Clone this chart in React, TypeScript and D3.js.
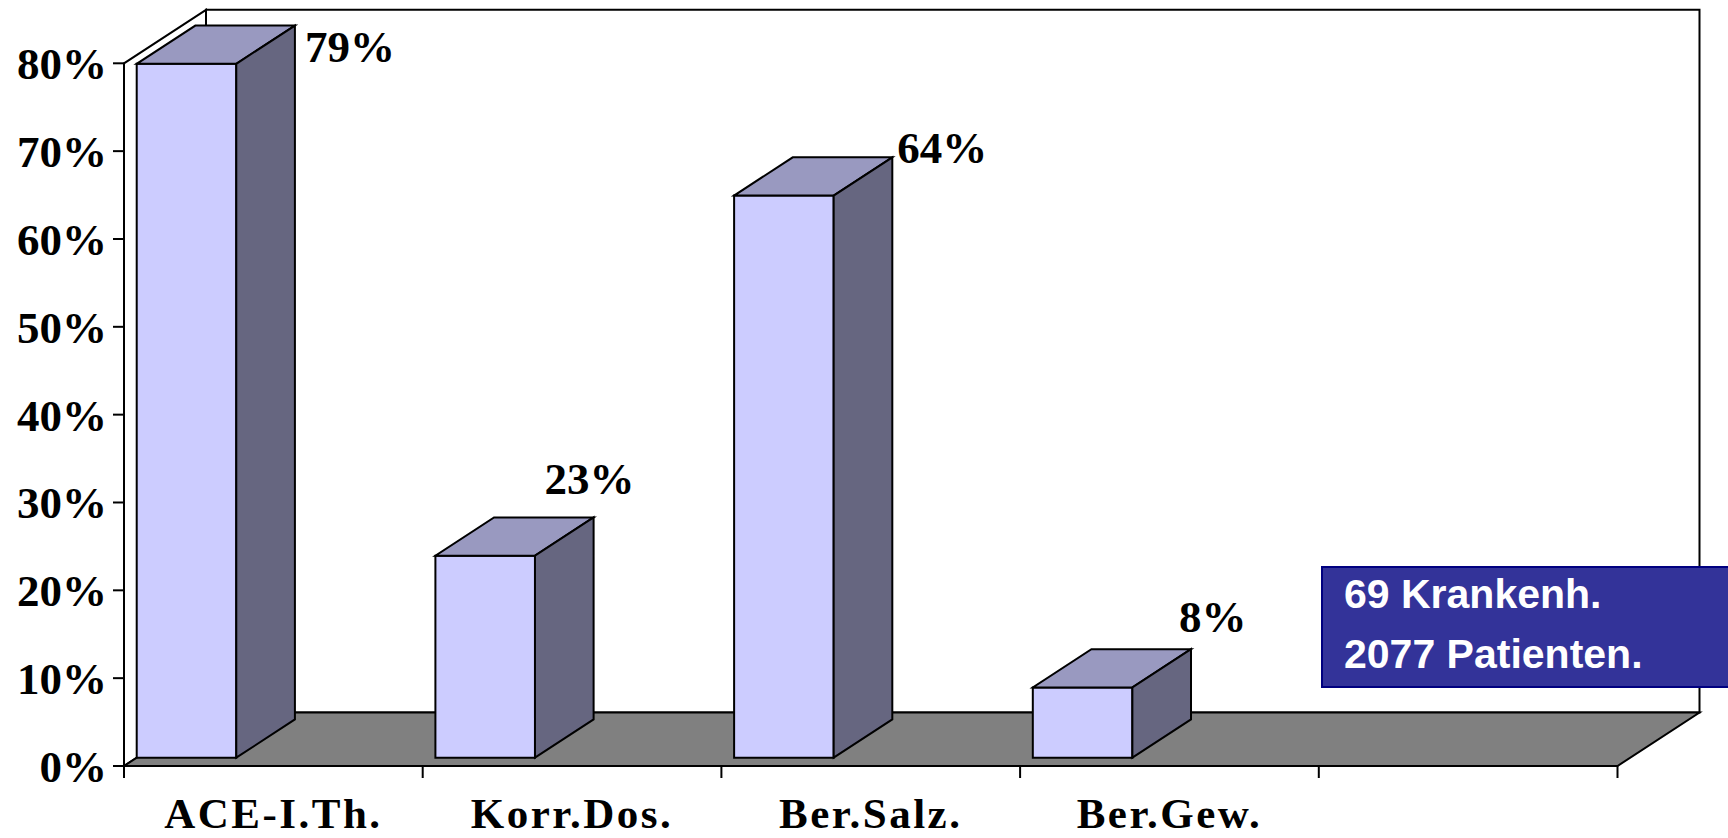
import { useEffect, useRef } from "react";
import * as d3 from "d3";

const categories = ["ACE-I.Th.", "Korr.Dos.", "Ber.Salz.", "Ber.Gew."];
const values = [79, 23, 64, 8];
const valueLabels = ["79%", "23%", "64%", "8%"];
const yTicks = [0, 10, 20, 30, 40, 50, 60, 70, 80];
const noteLines = ["69 Krankenh.", "2077 Patienten."];

// where each value label sits, relative to the back top corner of its bar
const labelNudge = [
  [10, 36],
  [-49, -23],
  [5, 6],
  [-12, -17],
];

const W = 1728;
const H = 838;
const DX = 82; // depth of the floor / walls
const DY = -53.5;
const F0 = 0.155; // bar front plane (fraction of depth)
const F1 = 0.87; // bar back plane
const serif = "'Palatino Linotype', 'Book Antiqua', Palatino, 'Liberation Serif', serif";

const App = () => {
  const ref = useRef<SVGSVGElement | null>(null);

  useEffect(() => {
    document.body.style.margin = "0";
    document.body.style.overflow = "hidden";

    const svg = d3.select(ref.current);
    svg.selectAll("*").remove();

    const x = d3
      .scaleBand()
      .domain([...categories, "_empty"])
      .range([124, 1617.5])
      .padding(0);

    const y = d3.scaleLinear().domain([0, 80]).range([766, 63.3]);

    const proj = (px: number, v: number, f: number): [number, number] => [
      px + f * DX,
      y(v) + f * DY,
    ];
    const poly = (pts: [number, number][]) => d3.line()(pts) + "Z";

    const x0 = x.range()[0];
    const xEnd = x.range()[1];
    const g = svg.append("g").attr("stroke", "#000").attr("stroke-width", 2).attr("stroke-linejoin", "miter");

    // back wall
    g.append("path")
      .attr("d", poly([proj(x0, 0, 1), proj(x0, 80, 1), proj(xEnd, 80, 1), proj(xEnd, 0, 1)]))
      .attr("fill", "#fff");

    // side wall
    g.append("path")
      .attr("d", poly([proj(x0, 0, 0), proj(x0, 80, 0), proj(x0, 80, 1), proj(x0, 0, 1)]))
      .attr("fill", "#fff");

    // floor
    g.append("path")
      .attr("d", poly([proj(x0, 0, 0), proj(xEnd, 0, 0), proj(xEnd, 0, 1), proj(x0, 0, 1)]))
      .attr("fill", "#808080");

    // bars
    const bw = x.bandwidth() / 3;
    const bars = g
      .selectAll("g.bar")
      .data(values)
      .enter()
      .append("g")
      .attr("class", "bar");

    bars
      .append("path")
      .attr("fill", "#CCCCFF")
      .attr("d", (d, i) => {
        const a = x(categories[i])!;
        return poly([proj(a, 0, F0), proj(a + bw, 0, F0), proj(a + bw, d, F0), proj(a, d, F0)]);
      });

    bars
      .append("path")
      .attr("fill", "#9999C0")
      .attr("d", (d, i) => {
        const a = x(categories[i])!;
        return poly([proj(a, d, F0), proj(a + bw, d, F0), proj(a + bw, d, F1), proj(a, d, F1)]);
      });

    bars
      .append("path")
      .attr("fill", "#666680")
      .attr("d", (d, i) => {
        const a = x(categories[i])! + bw;
        return poly([proj(a, 0, F0), proj(a, 0, F1), proj(a, d, F1), proj(a, d, F0)]);
      });

    // axes
    g.append("line")
      .attr("x1", x0)
      .attr("x2", x0)
      .attr("y1", y(0))
      .attr("y2", y(80));
    g.append("line")
      .attr("x1", x0)
      .attr("x2", xEnd)
      .attr("y1", y(0))
      .attr("y2", y(0));

    g.selectAll("line.ytick")
      .data(yTicks)
      .enter()
      .append("line")
      .attr("class", "ytick")
      .attr("x1", x0 - 11)
      .attr("x2", x0)
      .attr("y1", (d) => y(d))
      .attr("y2", (d) => y(d));

    const xTickPos = [...x.domain().map((c) => x(c)!), xEnd];
    g.selectAll("line.xtick")
      .data(xTickPos)
      .enter()
      .append("line")
      .attr("class", "xtick")
      .attr("x1", (d) => d)
      .attr("x2", (d) => d)
      .attr("y1", y(0))
      .attr("y2", y(0) + 12);

    // y tick labels
    svg
      .selectAll("text.ylab")
      .data(yTicks)
      .enter()
      .append("text")
      .attr("class", "ylab")
      .attr("x", x0 - 17)
      .attr("y", (d) => y(d) + 16)
      .attr("text-anchor", "end")
      .style("font-family", serif)
      .style("font-weight", "bold")
      .style("font-size", "45px")
      .text((d) => d + "%");

    // category labels
    svg
      .selectAll("text.xlab")
      .data(categories)
      .enter()
      .append("text")
      .attr("class", "xlab")
      .attr("x", (d) => x(d)! + x.bandwidth() / 2)
      .attr("y", 828)
      .attr("text-anchor", "middle")
      .style("font-family", serif)
      .style("font-weight", "bold")
      .style("font-size", "43px")
      .style("letter-spacing", "2.5px")
      .text((d) => d);

    // value labels
    svg
      .selectAll("text.vlab")
      .data(values)
      .enter()
      .append("text")
      .attr("class", "vlab")
      .attr("x", (d, i) => proj(x(categories[i])! + bw, d, F1)[0] + labelNudge[i][0])
      .attr("y", (d, i) => proj(x(categories[i])! + bw, d, F1)[1] + labelNudge[i][1])
      .style("font-family", serif)
      .style("font-weight", "bold")
      .style("font-size", "45px")
      .text((d, i) => valueLabels[i]);

    // note box
    const note = svg.append("g");
    note
      .append("rect")
      .attr("x", 1322)
      .attr("y", 567)
      .attr("width", 420)
      .attr("height", 120)
      .attr("fill", "#333399")
      .attr("stroke", "#000080")
      .attr("stroke-width", 2);
    note
      .selectAll("text")
      .data(noteLines)
      .enter()
      .append("text")
      .attr("x", 1344)
      .attr("y", (d, i) => 608 + i * 60)
      .attr("fill", "#fff")
      .style("font-family", "'Liberation Sans', Arial, sans-serif")
      .style("font-weight", "bold")
      .style("font-size", "41px")
      .text((d) => d);
  }, []);

  return <svg ref={ref} width={W} height={H} style={{ display: "block" }} />;
};

export default App;
